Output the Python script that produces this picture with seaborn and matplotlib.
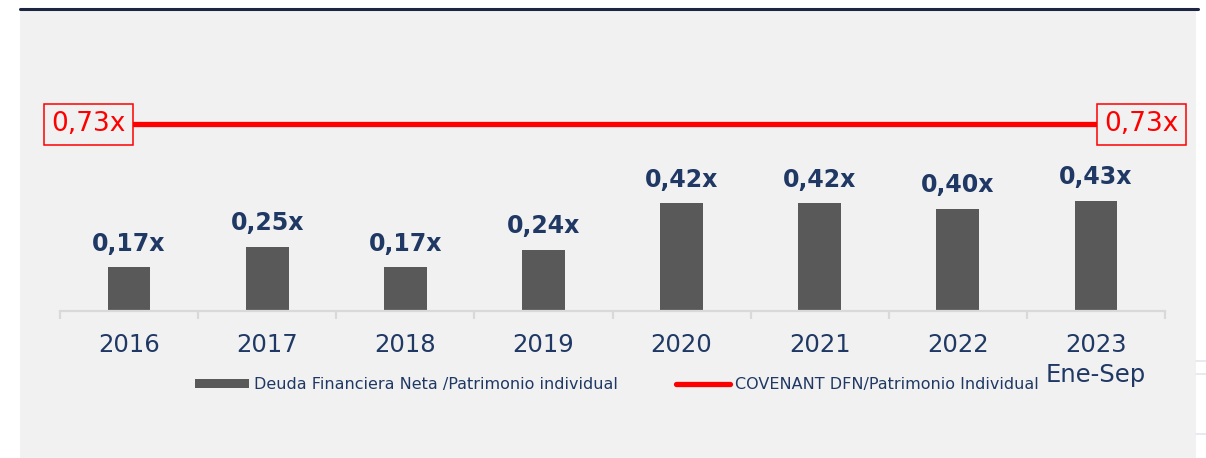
import matplotlib
matplotlib.use("Agg")
import matplotlib.pyplot as plt
from matplotlib.lines import Line2D
from matplotlib.patches import Rectangle, Patch
import seaborn as sns
import pandas as pd

# Data
years = ["2016", "2017", "2018", "2019", "2020", "2021", "2022", "2023\nEne-Sep"]
ratio = [0.17, 0.25, 0.17, 0.24, 0.42, 0.42, 0.40, 0.43]
covenant = [0.73, 0.73, 0.73, 0.73, 0.73, 0.73, 0.73, 0.73]
bar_label = "Deuda Financiera Neta /Patrimonio individual"
line_label = "COVENANT DFN/Patrimonio Individual"

NAVY = "#1f3864"
BAR = "#595959"
RED = "#ff0000"
PANEL = "#f1f1f1"

sns.set_theme(style="white")
plt.rcParams["font.family"] = ["DejaVu Sans"]

W, H = 1206, 458
fig = plt.figure(figsize=(W / 100, H / 100), dpi=100)
fig.patch.set_facecolor("white")

# grey background panel and dark rule at the top
fig.add_artist(Rectangle((20 / W, 0), (1196 - 20) / W, (H - 10) / H,
                         transform=fig.transFigure, facecolor=PANEL,
                         edgecolor="none", zorder=0))
fig.add_artist(Line2D([20 / W, 1198 / W], [1 - 9 / H, 1 - 9 / H],
                      transform=fig.transFigure, color="#1c2541", lw=2.2))
for yy in (361, 374, 434):
    fig.add_artist(Line2D([1196 / W, 1], [1 - yy / H, 1 - yy / H],
                          transform=fig.transFigure, color="#e3e8ee", lw=1.2))

ax_left, ax_right = 60, 1165
ax_bottom_px = 311
ymax = 1.1
px_per_unit = 256
ax_top_px = ax_bottom_px - ymax * px_per_unit
ax = fig.add_axes([ax_left / W, 1 - ax_bottom_px / H,
                   (ax_right - ax_left) / W, (ax_bottom_px - ax_top_px) / H])
ax.patch.set_alpha(0)

df = pd.DataFrame({"year": years, "ratio": ratio})
sns.barplot(data=df, x="year", y="ratio", color=BAR, width=0.31,
            saturation=1, linewidth=0, edgecolor=BAR, ax=ax, zorder=2)

x = list(range(len(years)))
ax.plot(x, covenant, color=RED, lw=3.8, solid_capstyle="round", zorder=3)

# value labels above bars
for xi, v in zip(x, ratio):
    ax.annotate(f"{v:.2f}x".replace(".", ","), (xi, v), xytext=(0, 12),
                textcoords="offset points", ha="center", va="baseline",
                fontsize=17, fontweight="bold", color=NAVY)

# covenant labels at both ends
box = dict(boxstyle="square,pad=0.28", facecolor=PANEL, edgecolor=RED, lw=1.1)
cv = f"{covenant[0]:.2f}x".replace(".", ",")
ax.annotate(cv, (0, covenant[0]), xytext=(-29.5, 0), textcoords="offset points",
            ha="center", va="center", fontsize=19, color=RED, bbox=box, zorder=4)
cv = f"{covenant[-1]:.2f}x".replace(".", ",")
ax.annotate(cv, (x[-1], covenant[-1]), xytext=(33, 0), textcoords="offset points",
            ha="center", va="center", fontsize=19, color=RED, bbox=box, zorder=4)

ax.set_xlim(-0.5, len(years) - 0.5)
ax.set_ylim(0, ymax)
ax.set_xlabel("")
ax.set_ylabel("")
ax.set_yticks([])
for s in ("top", "right", "left"):
    ax.spines[s].set_visible(False)
ax.spines["bottom"].set_color("#d9d9d9")
ax.spines["bottom"].set_linewidth(1.6)

ax.set_xticks(x)
ax.set_xticklabels(years, linespacing=1.3)
ax.tick_params(axis="x", which="major", bottom=False, length=0, pad=16,
               labelsize=17.5, labelcolor=NAVY)
ax.set_xticks([i - 0.5 for i in range(len(years) + 1)], minor=True)
ax.tick_params(axis="x", which="minor", bottom=True, length=6, width=1.6,
               color="#d9d9d9", direction="out")

handles = [Patch(facecolor=BAR, edgecolor="none"),
           Line2D([0], [0], color=RED, lw=3.8, solid_capstyle="round")]
fig.legend(handles, [bar_label, line_label], loc="center left",
           bbox_to_anchor=(195 / W, 1 - 385 / H), ncol=2, frameon=False,
           fontsize=11.5, labelcolor=NAVY, handlelength=3.35, handleheight=0.5,
           handletextpad=0.35, columnspacing=3.65, borderpad=0, borderaxespad=0)

fig.savefig("out.png", dpi=100, facecolor="white")
